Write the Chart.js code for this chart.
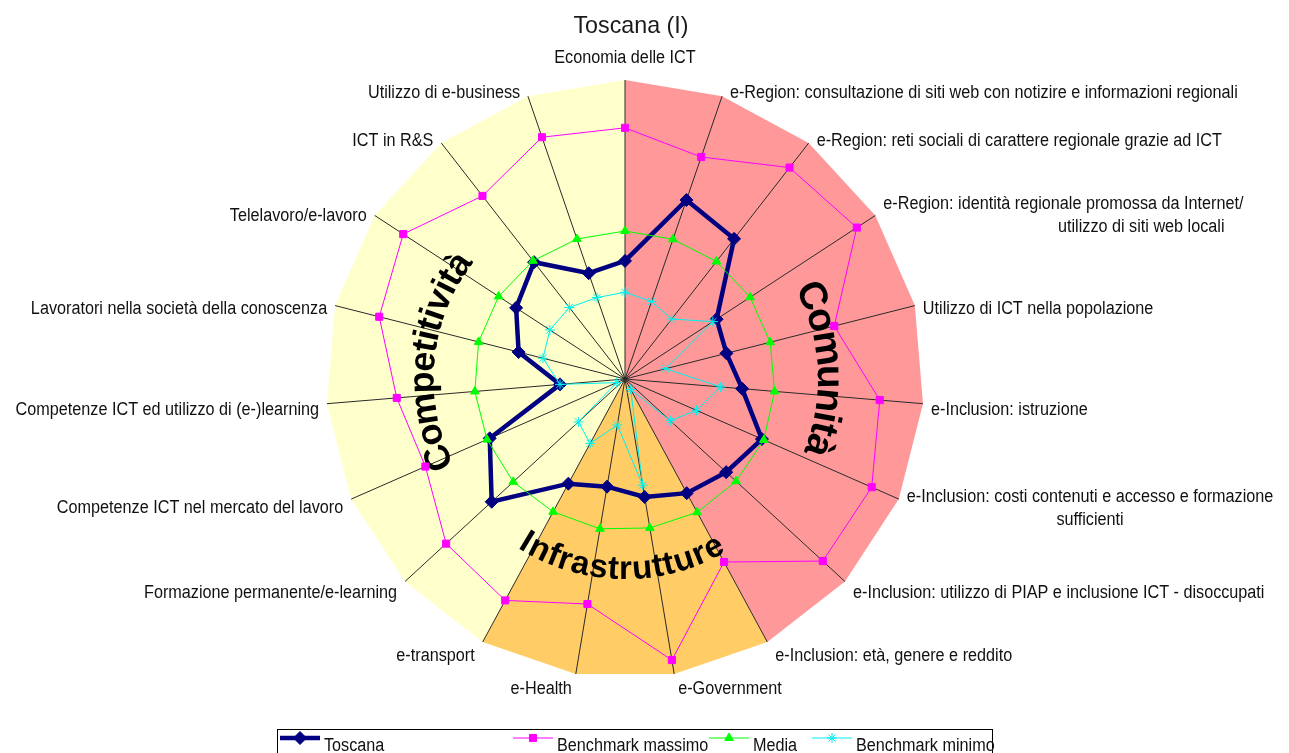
<!DOCTYPE html>
<html><head><meta charset="utf-8">
<script src="https://cdn.jsdelivr.net/npm/chart.js@4"></script>
<style>html,body{margin:0;padding:0;background:#fff;overflow:hidden}canvas{display:block}</style>
</head><body>
<canvas id="c" width="1289" height="753"></canvas>
<script>
const chartTitle = 'Toscana (I)';
const categories = [
  ['Economia delle ICT'],
  ['e-Region: consultazione di siti web con notizire e informazioni regionali'],
  ['e-Region: reti sociali di carattere regionale grazie ad ICT'],
  ['e-Region: identità regionale promossa da Internet/', 'utilizzo di siti web locali'],
  ['Utilizzo di ICT nella popolazione'],
  ['e-Inclusion: istruzione'],
  ['e-Inclusion: costi contenuti e accesso e formazione', 'sufficienti'],
  ['e-Inclusion: utilizzo di PIAP e inclusione ICT - disoccupati'],
  ['e-Inclusion: età, genere e reddito'],
  ['e-Government'],
  ['e-Health'],
  ['e-transport'],
  ['Formazione permanente/e-learning'],
  ['Competenze ICT nel mercato del lavoro'],
  ['Competenze ICT ed utilizzo di (e-)learning'],
  ['Lavoratori nella società della conoscenza'],
  ['Telelavoro/e-lavoro'],
  ['ICT in R&S'],
  ['Utilizzo di e-business']
];
const seriesNames = ['Toscana', 'Benchmark massimo', 'Media', 'Benchmark minimo'];
const toscana          = [0.395, 0.633, 0.594, 0.366, 0.350, 0.393, 0.500, 0.460, 0.434, 0.400, 0.365, 0.398, 0.606, 0.494, 0.218, 0.367, 0.435, 0.495, 0.374];
const benchmarkMassimo = [0.840, 0.785, 0.896, 0.926, 0.722, 0.855, 0.901, 0.899, 0.696, 0.953, 0.763, 0.842, 0.813, 0.729, 0.766, 0.848, 0.886, 0.776, 0.855];
const media            = [0.495, 0.494, 0.498, 0.500, 0.501, 0.502, 0.507, 0.505, 0.507, 0.505, 0.508, 0.505, 0.508, 0.504, 0.504, 0.505, 0.505, 0.501, 0.495];
const benchmarkMinimo  = [0.290, 0.274, 0.254, 0.351, 0.140, 0.321, 0.261, 0.206, 0.040, 0.360, 0.156, 0.245, 0.212, 0.030, 0.218, 0.283, 0.300, 0.303, 0.288];
const groupNames = ['Comunità', 'Infrastrutture', 'Competitività'];
const groupFirstAxis = [0, 8, 11];
const groupLastAxis  = [8, 11, 19];

/* ---------- styles ---------- */
const groupColors = ['#FF9999', '#FFCC66', '#FFFFCC'];
const groupText = [
  {centerDeg: 87,  rFrac: 0.645, size: 39, inward: false},
  {centerDeg: 181, rFrac: 0.669, size: 33, inward: true},
  {centerDeg: 275.5, rFrac: 0.640, size: 36, inward: false}
];
const FONT = '"Liberation Sans", Arial, Helvetica, sans-serif';
const labelSize = 18, labelSX = 0.9, labelLineH = 23;
const secondLineAlign = {3: 'right', 6: 'center'};
const seriesStyle = [
  {color: '#000080', width: 4.5, point: 'rectRot', radius: 6.5, order: 4},
  {color: '#FF00FF', width: 1, point: 'rect', radius: 5, order: 3},
  {color: '#00FF00', width: 1, point: 'triangle', radius: 5, order: 2},
  {color: '#00F0F0', width: 1, point: 'star', radius: 5, order: 1}
];
const seriesData = [toscana, benchmarkMassimo, media, benchmarkMinimo];
const legendSampleX = [280, 513, 709, 812];

function drawText(ctx, t, x, y, align, sx) {
  ctx.save();
  ctx.translate(x, y);
  ctx.scale(sx, 1);
  ctx.textAlign = align;
  ctx.fillText(t, 0, 0);
  ctx.restore();
}

function drawArcText(ctx, text, cx, cy, rBase, centerDeg, fontPx, inward) {
  ctx.save();
  ctx.font = 'bold ' + fontPx + 'px ' + FONT;
  ctx.fillStyle = '#000';
  ctx.textAlign = 'center';
  ctx.textBaseline = 'alphabetic';
  const capH = fontPx * 0.72;
  const rMid = inward ? rBase - capH / 2 : rBase + capH / 2;
  const chars = [...text];
  const widths = chars.map(ch => ctx.measureText(ch).width);
  const total = widths.reduce((a, b) => a + b, 0);
  const totalAng = total / rMid;
  const center = centerDeg * Math.PI / 180;
  let acc = 0;
  chars.forEach((ch, k) => {
    const off = (acc + widths[k] / 2) / rMid - totalAng / 2;
    const a = inward ? center - off : center + off;
    ctx.save();
    ctx.translate(cx, cy);
    ctx.rotate(a);
    ctx.translate(0, -rBase);
    if (inward) ctx.rotate(Math.PI);
    ctx.fillText(ch, 0, 0);
    ctx.restore();
    acc += widths[k];
  });
  ctx.restore();
}

const backgroundPlugin = {
  id: 'sectorBackground',
  beforeDraw(chart) {
    const ctx = chart.ctx, sc = chart.scales.r;
    ctx.save();
    ctx.fillStyle = '#fff';
    ctx.fillRect(0, 0, chart.width, chart.height);
    groupNames.forEach((g, gi) => {
      ctx.beginPath();
      ctx.moveTo(sc.xCenter, sc.yCenter);
      for (let i = groupFirstAxis[gi]; i <= groupLastAxis[gi]; i++) {
        const p = sc.getPointPositionForValue(i % categories.length, sc.max);
        ctx.lineTo(p.x, p.y);
      }
      ctx.closePath();
      ctx.fillStyle = groupColors[gi];
      ctx.fill();
    });
    ctx.restore();
  },
  beforeDatasetsDraw(chart) {
    const ctx = chart.ctx, sc = chart.scales.r;
    groupNames.forEach((g, gi) => {
      const s = groupText[gi];
      drawArcText(ctx, g, sc.xCenter, sc.yCenter, s.rFrac * sc.drawingArea, s.centerDeg, s.size, s.inward);
    });
  }
};

const textPlugin = {
  id: 'texts',
  afterDraw(chart) {
    const ctx = chart.ctx, sc = chart.scales.r;
    ctx.save();
    // title
    ctx.fillStyle = '#1a1a1a';
    ctx.font = '24px ' + FONT;
    ctx.textBaseline = 'alphabetic';
    drawText(ctx, chartTitle, sc.xCenter + 6, 33, 'center', 0.97);
    // axis labels
    ctx.fillStyle = '#111';
    ctx.font = labelSize + 'px ' + FONT;
    ctx.textBaseline = 'middle';
    categories.forEach((lines, i) => {
      const a = sc.getIndexAngle(i);
      const p = sc.getPointPositionForValue(i, sc.max);
      const s = Math.sin(a), c = Math.cos(a);
      let x, align;
      if (Math.abs(s) < 1e-6) { x = p.x; align = 'center'; }
      else if (s > 0) { x = p.x + 8 * Math.min(1, 3 * s); align = 'left'; }
      else { x = p.x - 8 * Math.min(1, -3 * s); align = 'right'; }
      const yMid = (i === 0) ? p.y - 22 : p.y + 5.5 - 9.5 * c;
      const y0 = yMid - (lines.length - 1) * labelLineH / 2;
      const w0 = ctx.measureText(lines[0]).width * labelSX;
      const left0 = align === 'left' ? x : (align === 'right' ? x - w0 : x - w0 / 2);
      lines.forEach((t, k) => {
        let lx = x, la = align;
        if (k > 0) {
          const mode = secondLineAlign[i] || align;
          if (mode === 'center') { lx = left0 + w0 / 2; la = 'center'; }
          else if (mode === 'right') { lx = left0 + w0 - 19; la = 'right'; }
          else { lx = left0; la = 'left'; }
        }
        drawText(ctx, t, lx, y0 + k * labelLineH, la, labelSX);
      });
    });
    // legend
    const boxTop = 729;
    ctx.strokeStyle = '#000';
    ctx.lineWidth = 1;
    ctx.strokeRect(277.5, boxTop + 0.5, 992 - 277, 60);
    ctx.textBaseline = 'alphabetic';
    ctx.font = labelSize + 'px ' + FONT;
    seriesNames.forEach((name, k) => {
      const st = seriesStyle[k];
      const x0 = legendSampleX[k];
      const ly = 738;
      ctx.strokeStyle = st.color;
      ctx.lineWidth = st.width;
      ctx.beginPath(); ctx.moveTo(x0, ly); ctx.lineTo(x0 + 40, ly); ctx.stroke();
      ctx.fillStyle = st.color;
      ctx.lineWidth = 1;
      Chart.helpers.drawPoint(ctx, {pointStyle: st.point, radius: st.radius, rotation: 0, borderWidth: 1}, x0 + 20, ly);
      ctx.fillStyle = '#111';
      drawText(ctx, name, x0 + 44, 751, 'left', labelSX);
    });
    ctx.restore();
  }
};

const datasets = seriesNames.map((name, k) => {
  const st = seriesStyle[k];
  return {
    label: name,
    data: seriesData[k],
    borderColor: st.color,
    backgroundColor: st.color,
    borderWidth: st.width,
    fill: false,
    tension: 0,
    pointStyle: st.point,
    pointRadius: st.radius,
    pointBackgroundColor: st.color,
    pointBorderColor: st.color,
    pointBorderWidth: 1,
    order: st.order
  };
});

new Chart(document.getElementById('c'), {
  type: 'radar',
  data: { labels: categories, datasets: datasets },
  options: {
    responsive: false,
    animation: false,
    devicePixelRatio: 1,
    layout: { padding: { left: 326, right: 365, top: 80, bottom: 75 } },
    plugins: { legend: { display: false }, title: { display: false }, tooltip: { enabled: false } },
    scales: {
      r: {
        min: 0, max: 1,
        ticks: { display: false },
        grid: { display: false },
        angleLines: { display: true, color: '#2a2a2a', lineWidth: 1 },
        pointLabels: { display: false }
      }
    }
  },
  plugins: [backgroundPlugin, textPlugin]
});
</script>
</body></html>
